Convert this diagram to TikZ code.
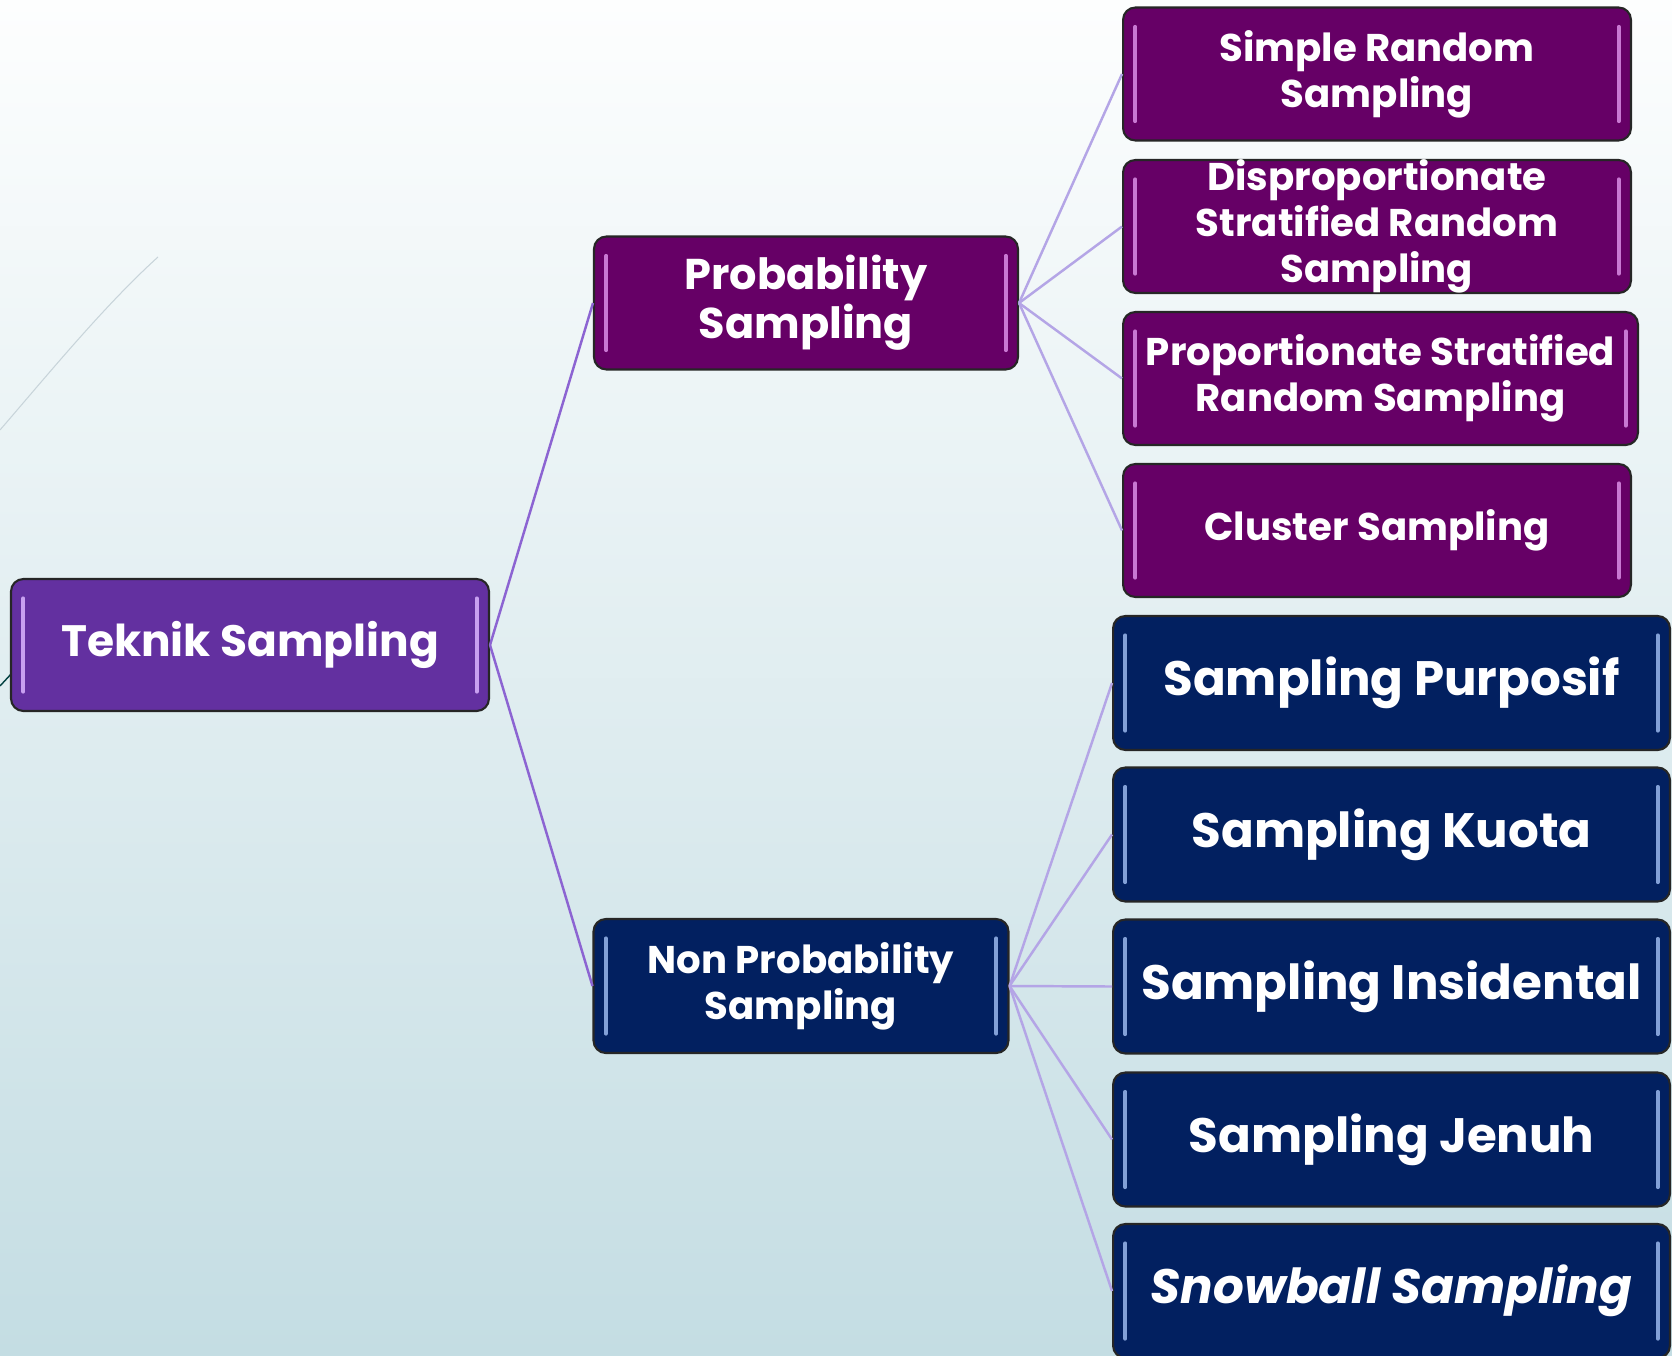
\documentclass[tikz,border=0pt]{standalone}
\usepackage{fontspec}
\setmainfont{Poppins}
\usetikzlibrary{positioning}

\definecolor{bgtop}{RGB}{253,254,254}
\definecolor{bgbottom}{RGB}{196,221,227}
\definecolor{rootfill}{RGB}{99,48,160}
\definecolor{probfill}{RGB}{102,0,102}
\definecolor{nonfill}{RGB}{2,32,96}
\definecolor{rootgloss}{RGB}{200,160,240}
\definecolor{probgloss}{RGB}{200,120,210}
\definecolor{nongloss}{RGB}{130,160,215}
\definecolor{rootline}{RGB}{140,100,210}
\definecolor{branchline}{RGB}{180,165,230}
\definecolor{arcline}{RGB}{200,212,218}

\tikzset{
  box/.style={draw=black!85, line width=1.2pt, rounded corners=7pt, text=white,
    align=center, inner sep=0pt},
  gloss/.style={path picture={
    \draw[#1, line width=2.2pt, line cap=round]
      ([xshift=7pt,yshift=-11pt]path picture bounding box.north west)
      -- ([xshift=7pt,yshift=11pt]path picture bounding box.south west);
    \draw[#1, line width=2.2pt, line cap=round]
      ([xshift=-7pt,yshift=-11pt]path picture bounding box.north east)
      -- ([xshift=-7pt,yshift=11pt]path picture bounding box.south east);}},
  rootbox/.style={box, fill=rootfill, gloss=rootgloss,
    minimum width=9.56cm, minimum height=2.64cm,
    font=\bfseries\fontsize{25}{27}\selectfont},
  probbox/.style={box, fill=probfill, gloss=probgloss, minimum height=2.66cm,
    font=\bfseries\fontsize{22}{26}\selectfont},
  nonbox/.style={box, fill=nonfill, gloss=nongloss, minimum height=2.68cm,
    font=\bfseries\fontsize{27.5}{30}\selectfont},
  rootedge/.style={draw=rootline, line width=1.4pt},
  branchedge/.style={draw=branchline, line width=1.4pt}
}

\begin{document}
\begin{tikzpicture}[x=0.02cm, y=-0.02cm]

  % background
  \shade[top color=bgtop, bottom color=bgbottom] (0,0) rectangle (1672,1355);
  \useasboundingbox (0,0) rectangle (1672,1355);
  \draw[arcline, line width=0.6pt] (0,430) .. controls (50,372) and (105,305) .. (158,257);
  \draw[black!50!teal, line width=0.8pt] (0,686) -- (12,673);

  % nodes
  \node[rootbox] (teknik) at (250,645) {Teknik Sampling};

  \node[probbox, minimum width=8.48cm, font=\bfseries\fontsize{24.5}{28}\selectfont]
    (prob) at (806,303) {Probability\\Sampling};
  \node[nonbox, minimum width=8.3cm, font=\bfseries\fontsize{22}{26}\selectfont]
    (nonprob) at (801,986) {Non Probability\\Sampling};

  \begin{scope}[every node/.style={probbox, minimum width=10.16cm}]
    \node (simple)  at (1377,74)    {Simple Random\\Sampling};
    \node (dispro)  at (1377,226.5) {Disproportionate\\Stratified Random\\Sampling};
    \node[minimum width=10.3cm] (pro) at (1380.5,378.5)
      {Proportionate Stratified\\Random Sampling};
    \node (cluster) at (1377,530.5) {Cluster Sampling};
  \end{scope}

  \begin{scope}[every node/.style={nonbox, minimum width=11.14cm}]
    \node (purposif)  at (1391.5,683)    {Sampling Purposif};
    \node (kuota)     at (1391.5,834.5)  {Sampling Kuota};
    \node (insiden)   at (1391.5,986.5)  {Sampling Insidental};
    \node (jenuh)     at (1391.5,1139.5) {Sampling Jenuh};
    \node (snowball)  at (1391.5,1291)   {\itshape Snowball Sampling};
  \end{scope}

  % connectors
  \path[rootedge] (teknik.east) -- (prob.west);
  \path[rootedge] (teknik.east) -- (nonprob.west);

  \begin{scope}[every path/.style={branchedge}]
    \path (prob.east) -- (simple.west);
    \path (prob.east) -- (dispro.west);
    \path (prob.east) -- (pro.west);
    \path (prob.east) -- (cluster.west);
    \path (nonprob.east) -- (purposif.west);
    \path (nonprob.east) -- (kuota.west);
    \path (nonprob.east) -- (insiden.west);
    \path (nonprob.east) -- (jenuh.west);
    \path (nonprob.east) -- (snowball.west);
  \end{scope}

\end{tikzpicture}
\end{document}
